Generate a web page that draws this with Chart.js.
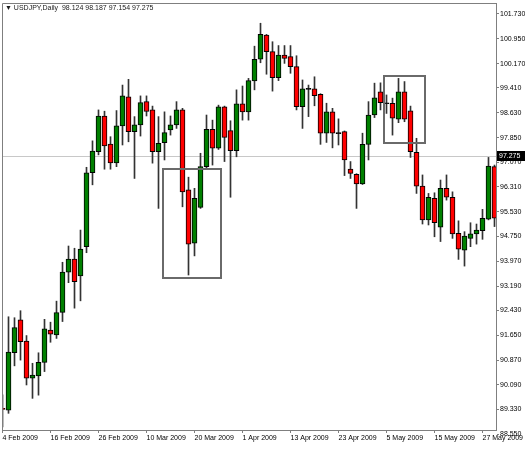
<!doctype html>
<html>
<head>
<title>USDJPY Daily</title>
<script src="https://cdn.jsdelivr.net/npm/chart.js@4/dist/chart.umd.min.js"></script>
<style>
  html, body { margin: 0; padding: 0; background: #fff; }
  canvas { display: block; }
</style>
</head>
<body>
<canvas id="chart" width="525" height="450"></canvas>
<script>
// trading days, one candle each
var days = [
  '4 Feb 2009','5 Feb 2009','6 Feb 2009','9 Feb 2009','10 Feb 2009','11 Feb 2009','12 Feb 2009','13 Feb 2009',
  '16 Feb 2009','17 Feb 2009','18 Feb 2009','19 Feb 2009','20 Feb 2009','23 Feb 2009','24 Feb 2009','25 Feb 2009',
  '26 Feb 2009','27 Feb 2009','2 Mar 2009','3 Mar 2009','4 Mar 2009','5 Mar 2009','6 Mar 2009','9 Mar 2009',
  '10 Mar 2009','11 Mar 2009','12 Mar 2009','13 Mar 2009','16 Mar 2009','17 Mar 2009','18 Mar 2009','19 Mar 2009',
  '20 Mar 2009','23 Mar 2009','24 Mar 2009','25 Mar 2009','26 Mar 2009','27 Mar 2009','30 Mar 2009','31 Mar 2009',
  '1 Apr 2009','2 Apr 2009','3 Apr 2009','6 Apr 2009','7 Apr 2009','8 Apr 2009','9 Apr 2009','10 Apr 2009',
  '13 Apr 2009','14 Apr 2009','15 Apr 2009','16 Apr 2009','17 Apr 2009','20 Apr 2009','21 Apr 2009','22 Apr 2009',
  '23 Apr 2009','24 Apr 2009','27 Apr 2009','28 Apr 2009','29 Apr 2009','30 Apr 2009','1 May 2009','4 May 2009',
  '5 May 2009','6 May 2009','7 May 2009','8 May 2009','11 May 2009','12 May 2009','13 May 2009','14 May 2009',
  '15 May 2009','18 May 2009','19 May 2009','20 May 2009','21 May 2009','22 May 2009','25 May 2009','26 May 2009',
  '27 May 2009','28 May 2009','29 May 2009'
];
var open = [
  89.36, 89.30, 91.10, 92.13, 91.47, 90.30, 90.37, 90.80, 91.81, 91.66,
  92.37, 93.63, 94.04, 93.51, 94.43, 96.75, 97.41, 98.53, 97.65, 97.06,
  98.22, 99.13, 98.04, 98.25, 98.98, 98.72, 97.41, 97.69, 98.09, 98.25,
  98.72, 96.21, 94.54, 95.66, 96.94, 98.11, 97.52, 98.82, 98.07, 97.44,
  98.91, 98.66, 99.63, 100.31, 101.07, 100.55, 99.73, 100.44, 100.39, 100.08,
  98.82, 99.38, 99.38, 99.21, 97.99, 98.66, 97.99, 98.04, 96.86, 96.70,
  96.40, 97.64, 98.56, 99.29, 98.93, 98.93, 98.43, 99.29, 98.69, 97.39,
  96.33, 95.27, 95.95, 95.04, 96.26, 95.98, 94.85, 94.32, 94.69, 94.83,
  94.93, 95.29, 96.94
];
var high = [
  89.78, 92.23, 92.20, 92.42, 91.64, 90.77, 91.10, 92.15, 92.06, 92.72,
  93.94, 94.45, 94.38, 94.95, 96.92, 97.75, 98.72, 98.68, 97.88, 98.70,
  99.50, 99.68, 98.51, 99.16, 99.16, 98.84, 98.51, 98.66, 98.53, 98.98,
  98.77, 96.61, 96.26, 97.36, 98.56, 98.40, 98.87, 98.84, 98.38, 99.35,
  99.47, 99.71, 100.72, 101.44, 101.09, 100.86, 100.74, 100.74, 100.74, 100.42,
  99.66, 99.50, 99.76, 99.23, 98.93, 98.77, 98.44, 98.06, 97.10, 96.72,
  97.99, 98.98, 99.56, 99.57, 99.19, 99.09, 99.71, 99.61, 98.84, 97.83,
  96.68, 96.10, 96.12, 96.52, 96.68, 96.15, 95.24, 94.90, 95.18, 95.14,
  95.60, 97.23, 96.99
];
var low = [
  88.77, 89.20, 90.69, 90.87, 90.09, 89.67, 89.77, 90.51, 91.43, 91.55,
  92.08, 93.30, 92.50, 92.73, 94.24, 96.37, 97.31, 96.86, 96.86, 96.94,
  97.62, 97.72, 96.57, 97.90, 98.53, 97.05, 95.63, 97.15, 97.93, 98.14,
  95.68, 93.54, 94.14, 95.63, 96.89, 96.99, 97.48, 97.10, 95.98, 97.25,
  98.40, 98.40, 99.35, 100.20, 99.84, 99.31, 99.64, 100.18, 99.87, 98.72,
  98.14, 98.51, 98.85, 97.64, 97.70, 97.53, 97.62, 96.66, 96.57, 95.63,
  96.38, 97.15, 98.48, 98.72, 98.61, 97.93, 98.32, 98.35, 97.23, 96.10,
  95.14, 95.11, 94.74, 94.59, 95.89, 94.69, 94.03, 93.82, 94.43, 94.51,
  94.66, 95.27, 95.06
];
var close = [
  89.32, 91.12, 91.89, 91.45, 90.30, 90.40, 90.80, 91.85, 91.68, 92.36,
  93.63, 94.04, 93.33, 94.35, 96.75, 97.43, 98.53, 97.59, 97.06, 98.22,
  99.16, 98.04, 98.25, 98.95, 98.67, 97.41, 97.67, 98.01, 98.25, 98.72,
  96.15, 94.51, 95.95, 96.94, 98.11, 97.52, 98.82, 97.86, 97.44, 98.91,
  98.66, 99.64, 100.31, 101.09, 100.55, 99.73, 100.44, 100.34, 100.08, 98.82,
  99.38, 99.38, 99.17, 97.99, 98.66, 97.99, 97.99, 97.15, 96.73, 96.40,
  97.64, 98.56, 99.10, 98.95, 98.93, 98.46, 99.29, 98.43, 97.41, 96.33,
  95.27, 95.98, 95.18, 96.26, 95.98, 94.83, 94.35, 94.76, 94.83, 94.95,
  95.32, 96.96, 95.32
];
var xTickLabels = ['4 Feb 2009','16 Feb 2009','26 Feb 2009','10 Mar 2009','20 Mar 2009','1 Apr 2009',
  '13 Apr 2009','23 Apr 2009','5 May 2009','15 May 2009','27 May 2009'];
var yTicks = [101.73, 100.95, 100.17, 99.41, 98.63, 97.85, 97.07, 96.31, 95.53, 94.75,
  93.97, 93.19, 92.43, 91.65, 90.87, 90.09, 89.33, 88.55];
var bidPrice = 97.275;
var header = '\u25BC USDJPY,Daily  98.124 98.187 97.154 97.275';
// rectangles drawn on the chart: [fromIndex, toIndex, lowPrice, highPrice]
var boxes = [[26.67, 36.5, 93.44, 96.86], [63.6, 70.4, 97.67, 99.79]];

var FONT = '"Liberation Sans", Arial, sans-serif';
var tickIdx = xTickLabels.map(function(l) { return days.indexOf(l); });

var wicks = days.map(function(d, i) { return {x: i, y: [low[i], high[i]]}; });
var bodies = days.map(function(d, i) {
  if (open[i] === close[i]) return {x: i, y: [open[i] - 0.016, open[i] + 0.016]};
  return {x: i, y: [open[i], close[i]]};
});
var bodyColors = days.map(function(d, i) {
  if (close[i] > open[i]) return '#008000';
  if (close[i] < open[i]) return '#ff0000';
  return '#000000';
});

var extras = {
  id: 'extras',
  beforeDatasetsDraw: function(chart) {
    var c = chart.ctx, a = chart.chartArea, y = Math.round(chart.scales.y.getPixelForValue(bidPrice)) + 0.5;
    c.save();
    c.strokeStyle = '#c8c8c8';
    c.lineWidth = 1;
    c.beginPath(); c.moveTo(a.left, y); c.lineTo(a.right, y); c.stroke();
    c.restore();
  },
  afterDatasetsDraw: function(chart) {
    var c = chart.ctx, xs = chart.scales.x, ys = chart.scales.y;
    c.save();
    c.strokeStyle = '#6a6a6a';
    c.lineWidth = 2;
    boxes.forEach(function(b) {
      var x0 = Math.round(xs.getPixelForValue(b[0])), x1 = Math.round(xs.getPixelForValue(b[1]));
      var y0 = Math.round(ys.getPixelForValue(b[3])), y1 = Math.round(ys.getPixelForValue(b[2]));
      c.strokeRect(x0, y0, x1 - x0, y1 - y0);
    });
    c.restore();
  },
  afterDraw: function(chart) {
    var c = chart.ctx, a = chart.chartArea;
    c.save();
    // frame
    c.strokeStyle = '#7f7f7f';
    c.lineWidth = 1;
    c.beginPath();
    c.moveTo(a.left + 0.5, a.bottom); c.lineTo(a.left + 0.5, a.top + 0.5); c.lineTo(a.right, a.top + 0.5);
    c.stroke();
    // header
    c.fillStyle = '#1a1a1a';
    c.font = '7px ' + FONT;
    c.textBaseline = 'middle';
    c.textAlign = 'left';
    c.fillText(header, 5, 8);
    // bid tag on the price axis
    var y = Math.round(chart.scales.y.getPixelForValue(bidPrice));
    c.fillStyle = '#000';
    c.fillRect(a.right + 1, y - 5, 525 - a.right - 1, 10);
    c.fillStyle = '#fff';
    c.fillText(bidPrice.toFixed(3), a.right + 3, y);
    c.restore();
  }
};

var ctx = document.getElementById('chart').getContext('2d');
new Chart(ctx, {
  type: 'bar',
  data: {
    datasets: [
      {
        label: 'range',
        data: wicks,
        backgroundColor: '#333333',
        barThickness: 1,
        grouped: false,
        order: 2
      },
      {
        label: 'body',
        data: bodies,
        backgroundColor: bodyColors,
        borderColor: '#000000',
        borderWidth: 1,
        borderSkipped: false,
        barThickness: 5,
        grouped: false,
        order: 1
      }
    ]
  },
  options: {
    responsive: false,
    animation: false,
    layout: { padding: { left: 2, top: 3, right: 0, bottom: 0 } },
    plugins: { legend: { display: false }, tooltip: { enabled: false } },
    scales: {
      x: {
        type: 'linear',
        offset: false,
        min: -0.0833,
        max: 82.25,
        grid: { drawOnChartArea: false, drawTicks: true, tickLength: 3, color: '#7f7f7f', offset: false },
        border: { color: '#7f7f7f' },
        ticks: {
          autoSkip: false,
          maxRotation: 0,
          align: 'start',
          padding: 1,
          color: '#000',
          font: { family: FONT, size: 7 },
          callback: function(v) { return days[v]; }
        },
        afterBuildTicks: function(s) { s.ticks = tickIdx.map(function(v) { return {value: v}; }); },
        afterFit: function(s) { s.height = 20; s.paddingLeft = 0; s.paddingRight = 0; }
      },
      y: {
        position: 'right',
        min: 88.677,
        max: 102.075,
        grid: { drawOnChartArea: false, drawTicks: true, tickLength: 3, color: '#7f7f7f' },
        border: { color: '#7f7f7f' },
        ticks: {
          autoSkip: false,
          padding: 1,
          color: '#000',
          font: { family: FONT, size: 7 },
          callback: function(v) { return v.toFixed(3); }
        },
        afterBuildTicks: function(s) { s.ticks = yTicks.map(function(v) { return {value: v}; }); },
        afterFit: function(s) { s.width = 29; s.paddingTop = 0; s.paddingBottom = 0; }
      }
    }
  },
  plugins: [extras]
});
</script>
</body>
</html>
